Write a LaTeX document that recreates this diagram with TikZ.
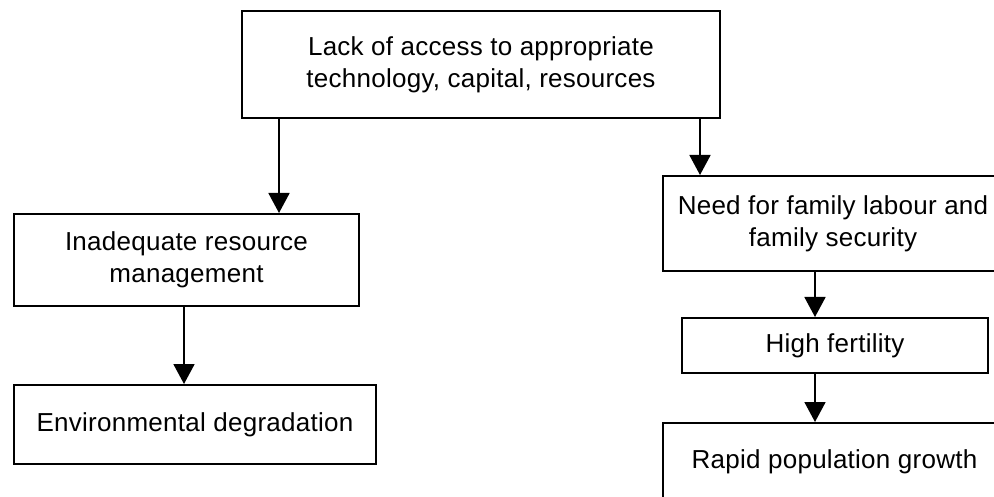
\documentclass[tikz,border=0pt]{standalone}
\usepackage{fontspec}
\setmainfont{Liberation Sans}[LetterSpace=1]
\usetikzlibrary{arrows.meta}
\tikzset{
  box/.style={draw=black, line width=2pt, fill=white, anchor=north west, inner sep=0pt,
    align=center, font=\fontsize{26}{32}\selectfont},
  arr/.style={draw=black, line width=1.8pt, -{Triangle[width=21pt,length=20pt]}}
}
\begin{document}
\begin{tikzpicture}[x=1pt,y=-1pt]
\useasboundingbox (0,0) rectangle (994,497);
\clip (0,0) rectangle (994,497);
\fill[white] (0,0) rectangle (994,497);
\node[box, minimum width=478pt, minimum height=107pt] (top) at (241,10)
  {Lack of access to appropriate\\technology, capital, resources};
\node[box, minimum width=345pt, minimum height=92pt] (inad) at (13,213)
  {Inadequate resource\\management};
\node[box, minimum width=362pt, minimum height=79pt] (env) at (13,384)
  {Environmental degradation};
\node[box, minimum width=340pt, minimum height=95pt] (need) at (662,175)
  {Need for family labour and\\family security};
\node[box, minimum width=306pt, minimum height=55pt] (high) at (681,317)
  {High fertility};
\node[box, minimum width=343pt, text height=45pt, text depth=55pt] (rapid) at (662,422)
  {Rapid population growth};
\coordinate (xL) at (279,0);
\coordinate (xR) at (700,0);
\coordinate (xE) at (184,0);
\coordinate (xF) at (815,0);
\draw[arr] (top.south -| xL) -- (inad.north -| xL);
\draw[arr] (top.south -| xR) -- (need.north -| xR);
\draw[arr] (inad.south -| xE) -- (env.north -| xE);
\draw[arr] (need.south -| xF) -- (high.north -| xF);
\draw[arr] (high.south -| xF) -- (rapid.north -| xF);
\end{tikzpicture}
\end{document}
